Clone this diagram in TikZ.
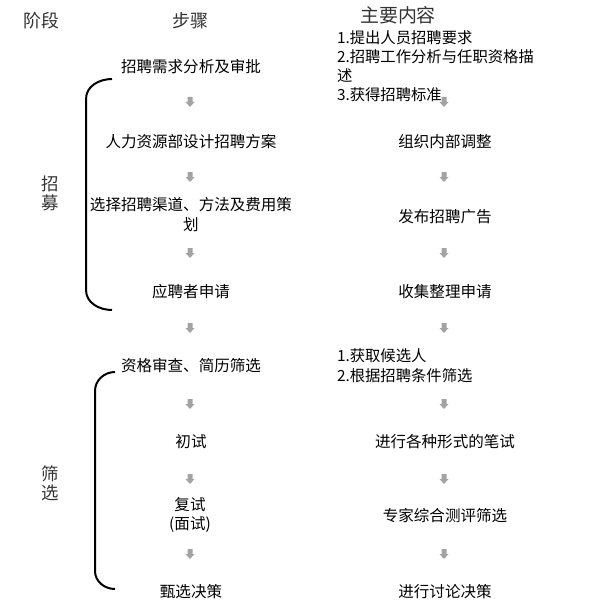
\documentclass[tikz,border=0pt]{standalone}
\usepackage{fontspec}
\setmainfont{Noto Sans CJK SC}
\usetikzlibrary{calc}
\begin{document}
\begin{tikzpicture}[x=1bp,y=-1bp,
  every node/.style={inner sep=0pt, outer sep=0pt},
  head/.style={font=\fontsize{18}{20}\selectfont, text=black!80},
  stepbox/.style={font=\fontsize{15.6}{19}\selectfont, align=center},
  listbox/.style={font=\fontsize{15.4}{19}\selectfont, align=left, anchor=west},
  brace/.style={line width=2bp, black},
  darrow/.style={fill=black!36, draw=none}
]
\useasboundingbox (0,0) rectangle (594,615);

% headers
\node[head] (hstage) at (41,21) {阶段};
\node[head] (hstep) at (190,21) {步骤};
\node[head, font=\fontsize{19}{21}\selectfont] (hcont) at (398,15) {主要内容};

% stage labels
\node[head, font=\fontsize{17.5}{20}\selectfont, align=center] (stA) at (50,193) {招\\[-1bp]募};
\node[head, font=\fontsize{17.5}{20}\selectfont, align=center] (stB) at (50,483) {筛\\[-1bp]选};

% left column
\node[stepbox] (L1) at (191,67) {招聘需求分析及审批};
\node[stepbox] (L2) at (191,142) {人力资源部设计招聘方案};
\node[stepbox, font=\fontsize{15.6}{20}\selectfont] (L3) at (191,215) {选择招聘渠道、方法及费用策\\划};
\node[stepbox] (L4) at (191,292) {应聘者申请};
\node[stepbox] (L5) at (191,366) {资格审查、简历筛选};
\node[stepbox] (L6) at (191,442) {初试};
\node[stepbox, font=\fontsize{15.6}{20}\selectfont] (L7) at (190,515) {复试\\(面试)};
\node[stepbox] (L8) at (191,592) {甄选决策};

% right column
\node[listbox] (R1) at (337,66.5) {1.提出人员招聘要求\\2.招聘工作分析与任职资格描\\述\\3.获得招聘标准};
\node[stepbox] (R2) at (445,142) {组织内部调整};
\node[stepbox] (R3) at (445,217) {发布招聘广告};
\node[stepbox] (R4) at (445,292) {收集整理申请};
\node[listbox, font=\fontsize{15.4}{20}\selectfont] (R5) at (337,366) {1.获取候选人\\2.根据招聘条件筛选};
\node[stepbox] (R6) at (445,442) {进行各种形式的笔试};
\node[stepbox] (R7) at (445,516) {专家综合测评筛选};
\node[stepbox] (R8) at (445,592) {进行讨论决策};

% block arrows
\foreach \ax/\ay/\nm in {190/102/la1,190/177/la2,190/253/la3,190/328/la4,190/404/la5,190/479/la6,190/554/la7,
                        444/102/ra1,444/177/ra2,444/253/ra3,444/328/ra4,444/404/ra5,444/479/ra6,444/554/ra7}{
  \coordinate (\nm) at (\ax,\ay);
  \fill[darrow] ($(\nm)+(-2.5,-5)$) -- ($(\nm)+(2.5,-5)$) -- ($(\nm)+(2.5,0)$) -- ($(\nm)+(4.5,0)$)
     -- ($(\nm)+(0,5)$) -- ($(\nm)+(-4.5,0)$) -- ($(\nm)+(-2.5,0)$) -- cycle;
}

% braces
\coordinate (bAt) at (112,79);
\coordinate (bAb) at (112,310);
\coordinate (bBt) at (115,372);
\coordinate (bBb) at (115,589);
\draw[brace] (bAt) to[out=180,in=90] (86,99) -- (86,290) to[out=270,in=180] (bAb);
\draw[brace] (bBt) to[out=180,in=90] (95,391) -- (95,571) to[out=270,in=180] (bBb);
\end{tikzpicture}
\end{document}
